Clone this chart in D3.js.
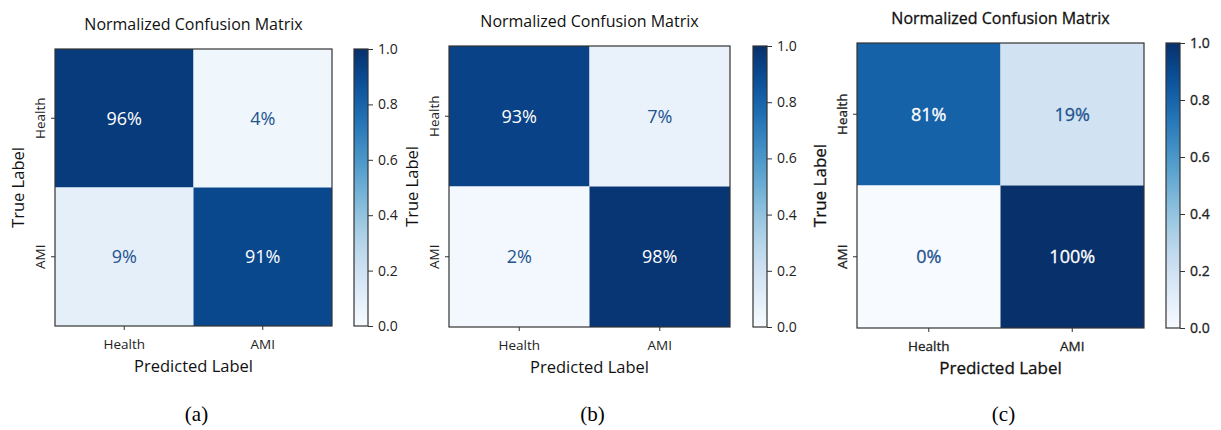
<!DOCTYPE html>
<html>
<head>
<meta charset="utf-8">
<script src="https://cdn.jsdelivr.net/npm/d3@7"></script>
<style>
  body { margin: 0; background: #fff; }
  svg { display: block; }
</style>
</head>
<body>
<div id="chart"></div>
<script>
// class labels (rows = true, cols = predicted)
const classes = ["Health", "AMI"];
// normalized confusion matrices, one per panel
const matrixA = [[0.96, 0.04], [0.09, 0.91]];
const matrixB = [[0.93, 0.07], [0.02, 0.98]];
const matrixC = [[0.81, 0.19], [0.00, 1.00]];
const captions = ["(a)", "(b)", "(c)"];
const cbarTicks = [0, 0.2, 0.4, 0.6, 0.8, 1.0];

const width = 1221, height = 430;
const font = "'Open Sans', 'Noto Sans', sans-serif";

// layout of each panel (matrix box + colorbar); panel c is a heavier scan
const panels = [
  {m: matrixA, x: 55,  y: 49, w: 277, h: 277, cbx: 354,  heavy: 0},
  {m: matrixB, x: 449, y: 46, w: 281, h: 281, cbx: 753,  heavy: 0},
  {m: matrixC, x: 857, y: 43, w: 287, h: 285, cbx: 1166, heavy: 0.3}
];

const svg = d3.select("#chart").append("svg")
    .attr("width", width).attr("height", height);

const color = d3.scaleSequential(d3.interpolateBlues).domain([0, 1]);

// shared gradient for colorbars
const grad = svg.append("defs").append("linearGradient")
    .attr("id", "blues").attr("x1", 0).attr("y1", 1).attr("x2", 0).attr("y2", 0);
d3.range(0, 1.0001, 0.05).forEach(t => {
  grad.append("stop").attr("offset", t).attr("stop-color", color(t));
});

function styleText(sel, size, fill, heavy) {
  sel.style("font-family", font)
     .style("font-size", size + "px")
     .attr("fill", fill);
  if (heavy) sel.attr("stroke", fill).attr("stroke-width", heavy);
  return sel;
}

panels.forEach((p, pi) => {
  const g = svg.append("g");
  const x = d3.scaleBand().domain(classes).range([p.x, p.x + p.w]);
  const y = d3.scaleBand().domain(classes).range([p.y, p.y + p.h]);
  const cells = [];
  p.m.forEach((row, i) => row.forEach((v, j) => cells.push({r: classes[i], c: classes[j], v: v})));

  g.selectAll("rect.cell").data(cells).enter().append("rect")
      .attr("class", "cell")
      .attr("x", d => x(d.c)).attr("y", d => y(d.r))
      .attr("width", x.bandwidth()).attr("height", y.bandwidth())
      .attr("fill", d => color(d.v));

  g.selectAll("text.val").data(cells).enter().append("text")
      .attr("class", "val")
      .attr("x", d => x(d.c) + x.bandwidth() / 2)
      .attr("y", d => y(d.r) + y.bandwidth() / 2)
      .attr("dy", "0.36em")
      .attr("text-anchor", "middle")
      .style("font-family", font)
      .style("font-size", "18px")
      .attr("fill", d => d.v > 0.5 ? "#ffffff" : "#24538f")
      .attr("stroke", d => p.heavy ? (d.v > 0.5 ? "#ffffff" : "#24538f") : null)
      .attr("stroke-width", p.heavy || null)
      .text(d => Math.round(d.v * 100) + "%");

  // frame
  g.append("rect")
      .attr("x", p.x).attr("y", p.y).attr("width", p.w).attr("height", p.h)
      .attr("fill", "none").attr("stroke", "#333").attr("stroke-width", 1.2);

  // axes
  const xAxis = g.append("g")
      .attr("transform", "translate(0," + (p.y + p.h) + ")")
      .call(d3.axisBottom(x).tickSize(4).tickPadding(6));
  const yAxis = g.append("g")
      .attr("transform", "translate(" + p.x + ",0)")
      .call(d3.axisLeft(y).tickSize(4).tickPadding(6));
  [xAxis, yAxis].forEach(a => {
    a.select(".domain").remove();
    a.selectAll("line").attr("stroke", "#333");
    styleText(a.selectAll("text"), 13.5, "#222", p.heavy);
  });
  xAxis.selectAll("text").attr("dy", "0.95em");
  yAxis.selectAll("text")
      .attr("x", 0).attr("y", 0).attr("dy", 0)
      .attr("transform", "translate(-10,0) rotate(-90)")
      .attr("text-anchor", "middle");

  const cx = p.x + p.w / 2;
  // title
  styleText(g.append("text"), 16, "#111", p.heavy)
      .attr("x", cx).attr("y", p.y - 19)
      .attr("text-anchor", "middle")
      .text("Normalized Confusion Matrix");

  // axis labels
  styleText(g.append("text"), p.heavy ? 17 : 16.5, "#111", p.heavy)
      .attr("x", cx).attr("y", p.y + p.h + 46)
      .attr("text-anchor", "middle")
      .text("Predicted Label");
  styleText(g.append("text"), p.heavy ? 17 : 16.5, "#111", p.heavy)
      .attr("transform", "translate(" + (p.x - 31) + "," + (p.y + p.h / 2) + ") rotate(-90)")
      .attr("text-anchor", "middle")
      .text("True Label");

  // colorbar
  const cbw = 14;
  const cy = d3.scaleLinear().domain([0, 1]).range([p.y + p.h, p.y]);
  g.append("rect")
      .attr("x", p.cbx).attr("y", p.y).attr("width", cbw).attr("height", p.h)
      .attr("fill", "url(#blues)").attr("stroke", "#333").attr("stroke-width", 1.2);
  const cAxis = g.append("g")
      .attr("transform", "translate(" + (p.cbx + cbw) + ",0)")
      .call(d3.axisRight(cy).tickValues(cbarTicks).tickFormat(d3.format(".1f")).tickSize(5).tickPadding(5));
  cAxis.select(".domain").remove();
  cAxis.selectAll("line").attr("stroke", "#333");
  styleText(cAxis.selectAll("text"), 14, "#222", p.heavy);

  // caption
  g.append("text")
      .attr("x", cx + 3).attr("y", 421)
      .attr("text-anchor", "middle")
      .style("font-family", "'Liberation Serif', 'Times New Roman', serif")
      .style("font-size", "21px")
      .attr("fill", "#000")
      .text(captions[pi]);
});
</script>
</body>
</html>
